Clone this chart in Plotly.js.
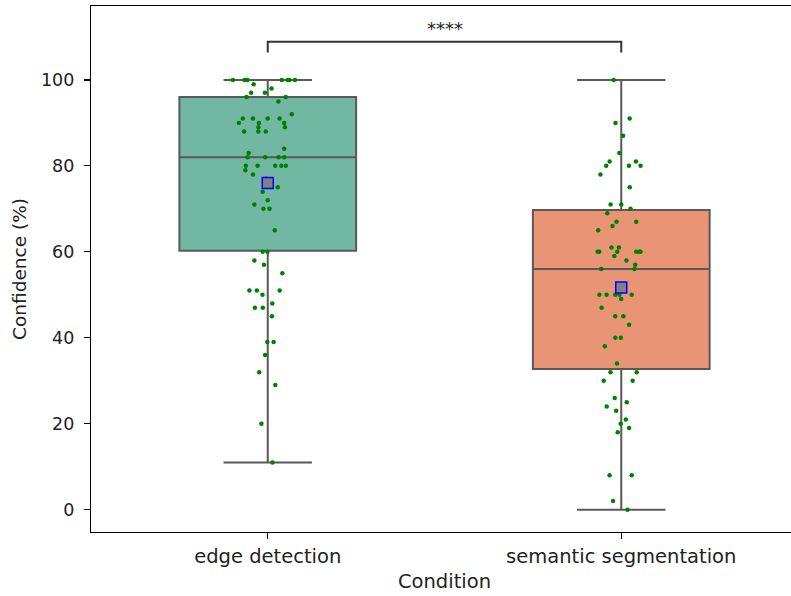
<!DOCTYPE html>
<html>
<head>
<meta charset="utf-8">
<script src="https://cdn.plot.ly/plotly-3.0.1.min.js"></script>
<style>
html,body{margin:0;padding:0;overflow:hidden;background:#fff;}
#chart{width:798px;height:596px;}
</style>
</head>
<body>
<div id="chart"></div>
<script>
// Categories
const categories = ['edge detection', 'semantic segmentation'];

// Individual confidence values
const edgeValues = [100,100,100,100,100,100,100,99,98,97,97,96,96,95,92,91,91,91,91,90,90,90,89,89,88,88,88,84,83,82,82,82,82,80,80,80,80,80,79,78,77,75,74,72,71,70,70,65,60,60,58,57,55,51,51,51,50,48,47,47,45,39,39,36,32,29,20,11];
const semanticValues = [100,91,90,87,83,81,81,80,80,80,78,75,71,71,70,69,67,67,66,65,61,61,60,60,60,60,60,60,59,58,57,56,56,50,50,50,50,50,49,47,45,45,43,40,40,38,34,32,32,30,30,26,25,24,23,21,20,19,18,8,8,2,0];

// Box statistics
const q1Vals = [60.25, 32.75];
const medianVals = [82, 56];
const q3Vals = [96, 69.75];
const lowerFenceVals = [11, 0];
const upperFenceVals = [100, 100];
const meanVals = [76, 51.7];

// Significance annotation
const sigText = '****';
const bracketTop = 108.9;
const bracketBottom = 106.4;

const boxColors = ['#71b7a1', '#e99575'];
const lineGray = '#595959';
const font = 'DejaVu Sans, sans-serif';

const traces = [];
categories.forEach((c, i) => {
  traces.push({
    type: 'box',
    x: [c],
    q1: [q1Vals[i]],
    median: [medianVals[i]],
    q3: [q3Vals[i]],
    lowerfence: [lowerFenceVals[i]],
    upperfence: [upperFenceVals[i]],
    width: 0.5,
    whiskerwidth: 0.5,
    fillcolor: boxColors[i],
    line: {color: lineGray, width: 2},
    boxpoints: false,
    hoverinfo: 'skip',
    showlegend: false
  });
});

const allVals = [edgeValues, semanticValues];
categories.forEach((c, i) => {
  traces.push({
    type: 'box',
    x: allVals[i].map(() => c),
    y: allVals[i],
    width: 0.5,
    boxpoints: 'all',
    jitter: 0.42,
    pointpos: 0,
    fillcolor: 'rgba(0,0,0,0)',
    line: {color: 'rgba(0,0,0,0)', width: 0},
    whiskerwidth: 0,
    marker: {color: '#008000', size: 4.5, line: {width: 0}},
    hoverinfo: 'skip',
    showlegend: false
  });
});

traces.push({
  type: 'scatter',
  mode: 'markers',
  x: categories,
  y: meanVals,
  marker: {symbol: 'square', size: 11, color: 'gray', line: {color: 'blue', width: 1.5}},
  hoverinfo: 'skip',
  showlegend: false
});

const layout = {
  width: 798,
  height: 596,
  margin: {l: 91, r: 0, t: 6, b: 64, pad: 0},
  paper_bgcolor: '#fff',
  plot_bgcolor: '#fff',
  boxmode: 'overlay',
  font: {family: font, color: '#000'},
  xaxis: {
    type: 'category',
    range: [-0.5, 1.5],
    showgrid: false,
    zeroline: false,
    showline: true,
    mirror: true,
    linecolor: '#000',
    linewidth: 1.2,
    ticks: 'outside',
    ticklen: 6,
    tickwidth: 1.2,
    tickcolor: '#000',
    tickfont: {size: 19.5, family: font, color: '#222'},
    title: {text: 'Condition', font: {size: 19.5, family: font, color: '#222'}, standoff: 7}
  },
  yaxis: {
    range: [-5.2, 117.2],
    tickvals: [0, 20, 40, 60, 80, 100],
    showgrid: false,
    zeroline: false,
    showline: true,
    mirror: true,
    linecolor: '#000',
    linewidth: 1.2,
    ticks: 'outside',
    ticklen: 6,
    tickwidth: 1.2,
    tickcolor: '#000',
    ticklabelstandoff: 6,
    tickfont: {size: 17.5, family: font, color: '#222'},
    title: {text: 'Confidence (%)', font: {size: 18.5, family: font, color: '#222'}, standoff: 9}
  },
  shapes: [{
    type: 'path',
    xref: 'x', yref: 'y',
    path: `M 0,${bracketBottom} L 0,${bracketTop} L 1,${bracketTop} L 1,${bracketBottom}`,
    line: {color: '#333', width: 2}
  }],
  annotations: [{
    xref: 'x', yref: 'y',
    x: 0.5, y: bracketTop,
    text: sigText,
    showarrow: false,
    yanchor: 'bottom',
    yshift: 1,
    font: {size: 18, family: font, color: '#222'}
  }]
};

Plotly.newPlot('chart', traces, layout, {displayModeBar: false, staticPlot: true});
</script>
</body>
</html>
